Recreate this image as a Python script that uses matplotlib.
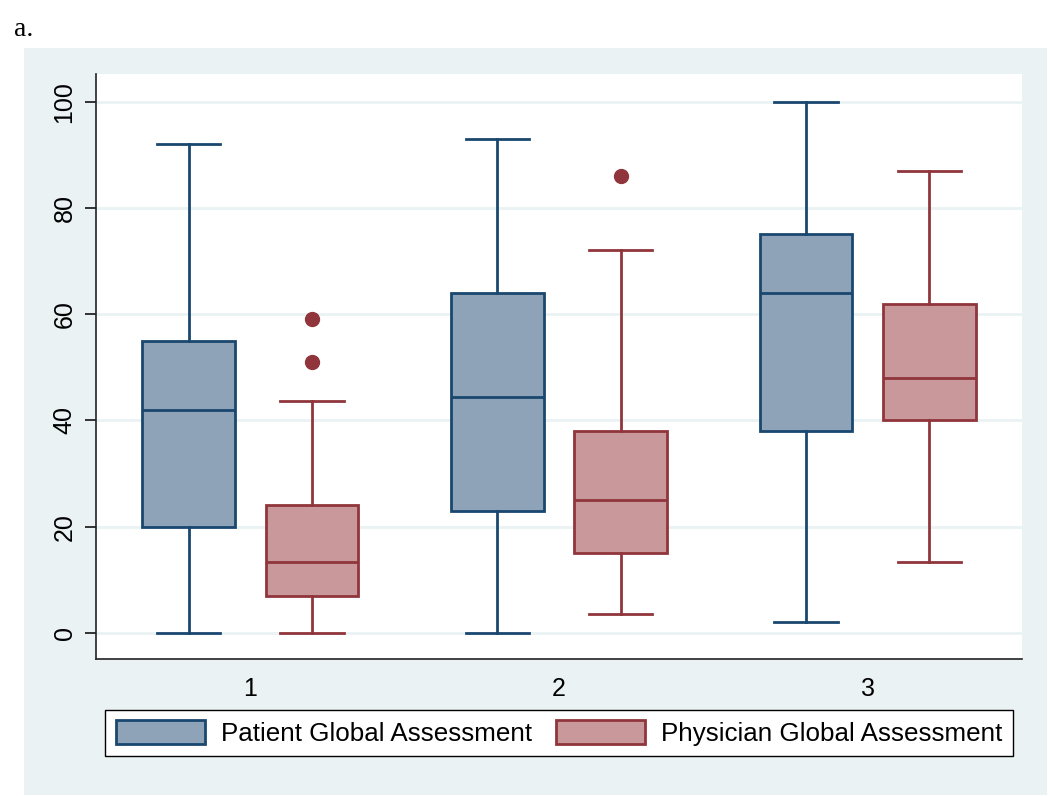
import matplotlib
matplotlib.use('Agg')
import matplotlib.pyplot as plt
from matplotlib.patches import Rectangle, Patch

# Данные: группы 1, 2, 3
groups = ['1', '2', '3']
series_names = ['Patient Global Assessment', 'Physician Global Assessment']

patient_low = [0, 0, 2]
patient_q1 = [20, 23, 38]
patient_med = [42, 44.5, 64]
patient_q3 = [55, 64, 75]
patient_high = [92, 93, 100]
patient_out = [[], [], []]

phys_low = [0, 3.6, 13.4]
phys_q1 = [7, 15, 40]
phys_med = [13.4, 25, 48]
phys_q3 = [24, 38, 62]
phys_high = [43.7, 72, 87]
phys_out = [[59, 51], [86], []]

y_ticks = [0, 20, 40, 60, 80, 100]

# Цвета в стиле Stata s2color
bg_col = '#EAF2F3'
pat_edge = '#1A476F'
pat_fill = '#8EA3B7'
phy_edge = '#90353B'
phy_fill = '#C8989A'

plt.rcParams['font.family'] = ['Liberation Sans', 'DejaVu Sans']

fig = plt.figure(figsize=(10.5, 7.96), dpi=100)
fig.patches.append(Rectangle((24 / 1050, 1 / 796), (1047 - 24) / 1050, (795 - 48) / 796,
                             transform=fig.transFigure, facecolor=bg_col,
                             edgecolor='none', zorder=-5))
fig.text(14 / 1050, 1 - 30 / 796, 'a.', family='Liberation Serif', fontsize=20,
         va='center', ha='left')

ax = fig.add_axes([96 / 1050, 1 - 659 / 796, (1022 - 96) / 1050, (659 - 74) / 796])
ax.set_zorder(2)
ax.set_facecolor('white')


def make_stats(low, q1, med, q3, high, out):
    stats = []
    for i in range(len(low)):
        stats.append({'whislo': low[i], 'q1': q1[i], 'med': med[i], 'q3': q3[i],
                      'whishi': high[i], 'fliers': out[i]})
    return stats


pos = list(range(1, len(groups) + 1))
offs = 0.2
series = [
    (make_stats(patient_low, patient_q1, patient_med, patient_q3, patient_high, patient_out),
     pat_edge, pat_fill, -offs),
    (make_stats(phys_low, phys_q1, phys_med, phys_q3, phys_high, phys_out),
     phy_edge, phy_fill, offs),
]
lw = 2.0
for stats, ec, fc, dx in series:
    ax.bxp(stats, positions=[p + dx for p in pos], widths=0.30, capwidths=0.205,
           patch_artist=True, showfliers=True,
           boxprops=dict(facecolor=fc, edgecolor=ec, linewidth=lw),
           medianprops=dict(color=ec, linewidth=lw),
           whiskerprops=dict(color=ec, linewidth=lw),
           capprops=dict(color=ec, linewidth=lw),
           flierprops=dict(marker='o', markerfacecolor=ec, markeredgecolor=ec,
                           markersize=10),
           zorder=3)

ax.set_xlim(0.5, 3.5)
ax.set_ylim(-4.9, 105.2)
ax.set_xticks(pos)
ax.set_xticklabels(groups)
ax.set_yticks(y_ticks)
ax.set_yticklabels([str(t) for t in y_ticks], rotation=90, va='center')
ax.tick_params(axis='x', length=0, pad=13, labelsize=18)
ax.tick_params(axis='y', length=8, width=1.1, direction='out', pad=6, labelsize=18)
ax.grid(axis='y', color=bg_col, linewidth=2, zorder=0)
ax.set_axisbelow(True)
for s in ['top', 'right']:
    ax.spines[s].set_visible(False)
for s in ['left', 'bottom']:
    ax.spines[s].set_color('#222222')
    ax.spines[s].set_linewidth(1.2)

handles = [Patch(facecolor=pat_fill, edgecolor=pat_edge, linewidth=2, label=series_names[0]),
           Patch(facecolor=phy_fill, edgecolor=phy_edge, linewidth=2, label=series_names[1])]
leg = fig.legend(handles=handles, loc='center', bbox_to_anchor=(559 / 1050, 1 - 733 / 796),
                 ncol=2, fontsize=18.7, frameon=True, fancybox=False, shadow=False,
                 handlelength=3.45, handleheight=1.05, handletextpad=0.6,
                 columnspacing=0.9, borderpad=0.4, borderaxespad=0)
leg.get_frame().set_edgecolor('black')
leg.get_frame().set_linewidth(1.0)
leg.get_frame().set_facecolor('white')
leg.get_frame().set_alpha(1)

plt.savefig('out.png', dpi=100)
